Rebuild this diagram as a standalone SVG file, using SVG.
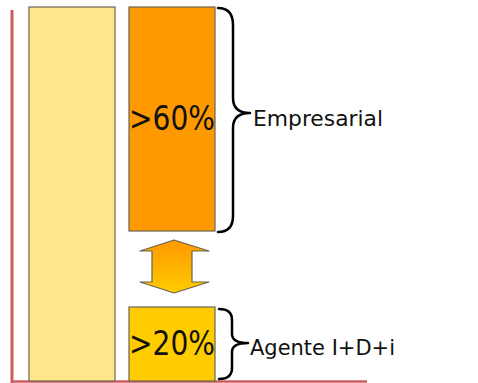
<svg xmlns="http://www.w3.org/2000/svg" width="478" height="383" viewBox="0 0 478 383">
<style>
.bar{stroke:#6b6450;stroke-width:1.2}
.brace{fill:none;stroke:#000;stroke-width:2.5;stroke-linecap:round;stroke-linejoin:round}
.pct{font-family:"DejaVu Sans",sans-serif;font-size:33px;fill:#111}
.lbl{font-family:"DejaVu Sans",sans-serif;font-size:21px;fill:#111}
</style>
<defs>
<linearGradient id="ag" x1="0" y1="0" x2="0" y2="1">
<stop offset="0" stop-color="#FF9900"/>
<stop offset="1" stop-color="#FFCC00"/>
</linearGradient>
</defs>
<g id="axis">
<line x1="12" y1="10" x2="12" y2="383" stroke="#CD5C5C" stroke-width="3"/>
<line x1="11" y1="381.5" x2="367" y2="381.5" stroke="#CD5C5C" stroke-width="2.5"/>
</g>
<g id="total">
<rect class="bar" x="29" y="7" width="86" height="374" fill="#FFE68C"/>
</g>
<g id="empresarial-bar">
<rect class="bar" x="129" y="7" width="86" height="224" fill="#FF9900"/>
<text class="pct" x="129" y="130" textLength="86" lengthAdjust="spacingAndGlyphs">&gt;60%</text>
</g>
<g id="agente-bar">
<rect class="bar" x="129" y="307" width="86" height="74" fill="#FFCC00"/>
<text class="pct" x="129" y="355" textLength="86" lengthAdjust="spacingAndGlyphs">&gt;20%</text>
</g>
<g id="connectors">
<path d="M174 240 L209 251 L192 251 L192 282 L209 282 L174 293 L140 282 L152 282 L152 251 L140 251 Z" fill="url(#ag)" stroke="#6b6450" stroke-width="1.2" stroke-linejoin="round"/>
<path class="brace" d="M218 8 Q233 8 233 25 L233 98 Q233 113 250 113 Q233 113 233 128 L233 216 Q233 232 218 232"/>
<path class="brace" d="M219 309 Q232 309 232 320 L232 334 Q232 343 248 343 Q232 343 232 352 L232 368 Q232 379 219 379"/>
</g>
<g id="labels">
<text class="lbl" x="253" y="126" textLength="130" lengthAdjust="spacingAndGlyphs">Empresarial</text>
<text class="lbl" x="250" y="355" textLength="145" lengthAdjust="spacingAndGlyphs">Agente I+D+i</text>
</g>
</svg>
